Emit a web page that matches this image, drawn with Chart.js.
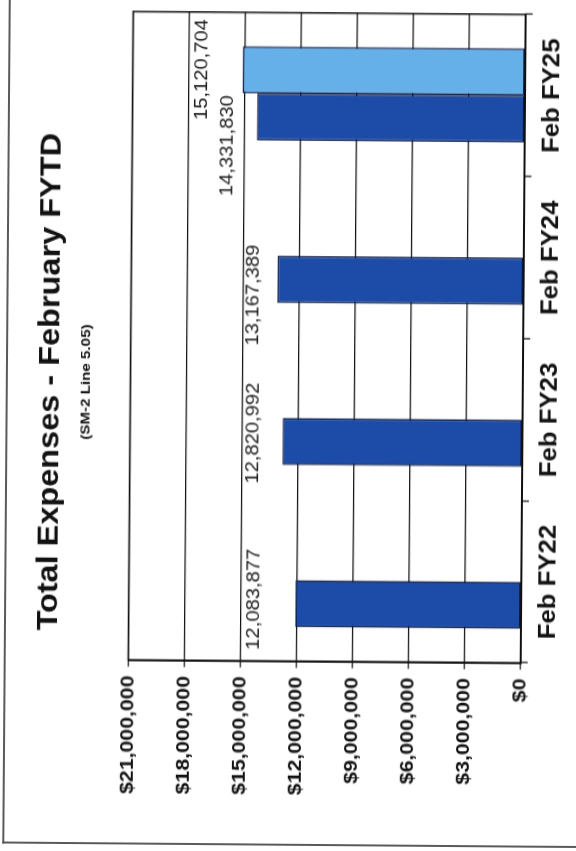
<!DOCTYPE html>
<html><head><meta charset="utf-8">
<script src="https://cdn.jsdelivr.net/npm/chart.js@4/dist/chart.umd.min.js"></script>
<style>
html,body{margin:0;padding:0;background:#fff;overflow:hidden;width:576px;height:851px;}
#rot{position:absolute;left:0;top:0;width:916px;height:576px;transform-origin:0 0;transform:translate(-0.69px,839.5px) rotate(-89.56deg);}
#frame{position:absolute;left:-4px;top:3px;width:1300px;height:900px;border-left:2px solid #5a5a5a;border-top:2px solid #5a5a5a;box-sizing:border-box;}
#c{position:absolute;left:0;top:0;transform-origin:0 0;transform:scaleX(1.12);}
</style></head><body>
<div id="rot"><div id="frame"></div><canvas id="c" width="818" height="576"></canvas></div>
<script>
const categories = ['Feb FY22', 'Feb FY23', 'Feb FY24', 'Feb FY25'];
const priorYearsSeries = [12083877, 12820992, 13167389, 14331830];
const currentYearSeries = [null, null, null, 15120704];
const valueTicks = [0, 3000000, 6000000, 9000000, 12000000, 15000000, 18000000, 21000000];
const titleText = 'Total Expenses - February FYTD';
const subtitleText = '(SM-2 Line 5.05)';

const FONT = '"Liberation Sans", Arial, Helvetica, sans-serif';
const STRETCH = 1.12;

const barValueLabels = {
  id: 'barValueLabels',
  afterDatasetsDraw(chart, args, opts) {
    const ctx = chart.ctx;
    ctx.save();
    ctx.font = '18px ' + FONT;
    ctx.fillStyle = '#1a1a1a';
    ctx.textAlign = 'center';
    ctx.textBaseline = 'alphabetic';
    chart.data.datasets.forEach((ds, i) => {
      const meta = chart.getDatasetMeta(i);
      meta.data.forEach((bar, j) => {
        const v = ds.data[j];
        if (v == null) return;
        const gap = opts.gaps[i][j];
        const shift = opts.shifts[i][j] / STRETCH;
        ctx.fillText(v.toLocaleString('en-US'), bar.x + shift, bar.y - gap);
      });
    });
    ctx.restore();
  }
};

const plotBorder = {
  id: 'plotBorder',
  afterDatasetsDraw(chart) {
    const a = chart.chartArea, ctx = chart.ctx;
    ctx.save();
    ctx.strokeStyle = '#111';
    ctx.lineWidth = 1.5;
    ctx.strokeRect(a.left, a.top, a.right - a.left, a.bottom - a.top);
    ctx.restore();
  }
};

new Chart(document.getElementById('c'), {
  type: 'bar',
  data: {
    labels: categories,
    datasets: [
      { label: 'Prior', data: priorYearsSeries, backgroundColor: '#1c4ca8', borderColor: '#0a1a45', borderWidth: 1.5, borderSkipped: false, yAxisID: 'y' },
      { label: 'Current', data: currentYearSeries, backgroundColor: '#66b0ea', borderColor: '#0a1a45', borderWidth: 1.5, borderSkipped: false, yAxisID: 'y' }
    ]
  },
  options: {
    responsive: false,
    animation: false,
    devicePixelRatio: 1,
    categoryPercentage: 0.58,
    barPercentage: 1,
    layout: { padding: { left: 0, right: 0, top: 0, bottom: 0 } },
    plugins: {
      legend: { display: false },
      tooltip: { enabled: false },
      title: { display: true, text: titleText, color: '#111', font: { family: FONT, size: 29, weight: 'bold', lineHeight: 1.2 }, padding: { top: 31, bottom: 0 } },
      subtitle: { display: true, text: subtitleText, color: '#111', font: { family: FONT, size: 13.5, weight: 'bold', lineHeight: 1.2 }, padding: { top: 9.3, bottom: 36.2 } },
      barValueLabels: {
        gaps: [[36, 24, 19, 24], [0, 0, 0, 35]],
        shifts: [[4, 8, -16, -29], [0, 0, 0, 0]]
      }
    },
    scales: {
      x: {
        offset: true,
        grid: { display: true, drawOnChartArea: false, drawTicks: true, tickLength: 7, color: '#111', lineWidth: 1.2, offset: true },
        border: { display: true, color: '#111', width: 2 },
        ticks: { color: '#111', padding: 7, font: { family: FONT, size: 23, weight: 'bold' }, maxRotation: 0 },
        afterFit(s) { s.height = 56; }
      },
      y: {
        position: 'left',
        min: 0, max: 21000000,
        afterBuildTicks(s) { s.ticks = valueTicks.map(v => ({ value: v })); },
        grid: { color: '#111', lineWidth: 1.2, tickLength: 6, drawTicks: true },
        border: { display: true, color: '#111', width: 1.5 },
        ticks: { color: '#111', padding: 8, font: { family: FONT, size: 19, weight: 'bold' }, callback: v => '$' + Number(v).toLocaleString('en-US') },
        afterFit(s) { s.width = 161.2; }
      },
      spacer: {
        type: 'linear',
        position: 'right',
        display: true,
        grid: { display: false, drawTicks: false },
        border: { display: false },
        ticks: { display: false },
        afterFit(s) { s.width = 77.8; }
      }
    }
  },
  plugins: [barValueLabels, plotBorder]
});
</script>
</body></html>
